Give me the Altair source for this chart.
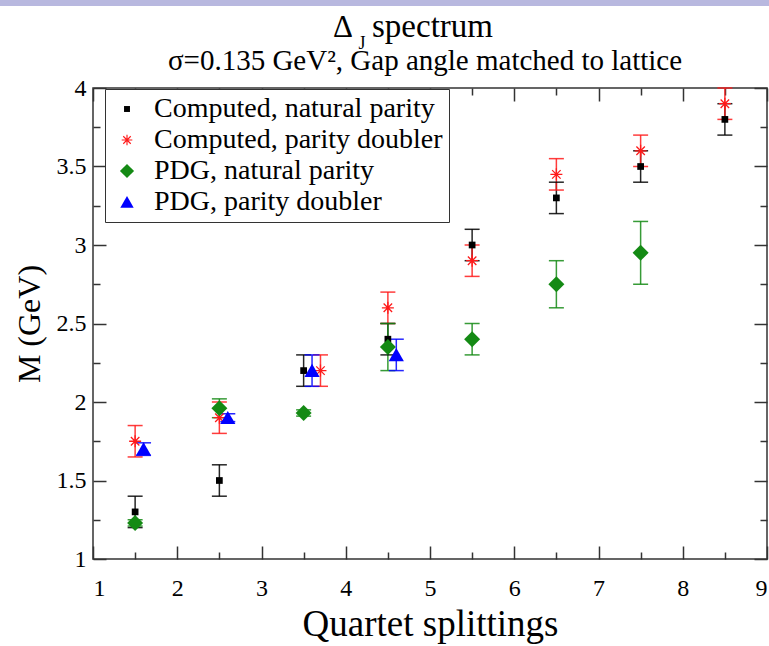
import altair as alt
import pandas as pd

SERIF = "Liberation Serif"

# ---- data -------------------------------------------------------------
series_names = ["Computed, natural parity", "Computed, parity doubler",
                "PDG, natural parity", "PDG, parity doubler"]
series_colors = ["#000000", "#ff1a1a", "#148a14", "#0000ff"]
# symbol outlines in the unit box [-1, 1]
SQUARE = "M-0.42,-0.42H0.42V0.42H-0.42Z"
ASTERISK = ("M-0.75,-0.08H0.75V0.08H-0.75Z"
            "M-0.08,-0.75H0.08V0.75H-0.08Z"
            "M-0.587,-0.473L-0.473,-0.587L0.587,0.473L0.473,0.587Z"
            "M-0.473,0.587L-0.587,0.473L0.473,-0.587L0.587,-0.473Z")
DIAMOND = "M-1,0L0,-1L1,0L0,1Z"
TRIANGLE = "M0,-0.85L0.95,0.8L-0.95,0.8Z"
series_shapes = [SQUARE, ASTERISK, DIAMOND, TRIANGLE]

cnp_x = [1.5, 2.5, 3.5, 4.5, 5.5, 6.5, 7.5, 8.5]
cnp_y = [1.30, 1.50, 2.20, 2.40, 3.00, 3.30, 3.50, 3.80]
cnp_e = [0.10, 0.10, 0.10, 0.10, 0.10, 0.10, 0.10, 0.10]

cpd_x = [1.5, 2.5, 3.7, 4.5, 5.5, 6.5, 7.5, 8.5]
cpd_y = [1.75, 1.90, 2.20, 2.60, 2.90, 3.45, 3.60, 3.90]
cpd_e = [0.10, 0.10, 0.10, 0.10, 0.10, 0.10, 0.10, 0.10]

pnp_x = [1.5, 2.5, 3.5, 4.5, 5.5, 6.5, 7.5]
pnp_y = [1.23, 1.96, 1.93, 2.35, 2.40, 2.75, 2.95]
pnp_e = [0.02, 0.06, 0.02, 0.15, 0.10, 0.15, 0.20]

ppd_x = [1.6, 2.6, 3.6, 4.6]
ppd_y = [1.70, 1.90, 2.20, 2.30]
ppd_e = [0.04, 0.025, 0.10, 0.10]

x_major = [1, 2, 3, 4, 5, 6, 7, 8, 9]
x_minor = [1.5, 2.5, 3.5, 4.5, 5.5, 6.5, 7.5, 8.5]
y_major = [1, 1.5, 2, 2.5, 3, 3.5, 4]
y_minor = [1.25, 1.75, 2.25, 2.75, 3.25, 3.75]

title_delta = "Δ"
title_sub_j = "J"
title_rest = "spectrum"
subtitle = "σ=0.135 GeV², Gap  angle matched to lattice"
x_title = "Quartet splittings"
y_title = "M (GeV)"

rows = []
for name, xs, ys, es in zip(series_names,
                            [cnp_x, cpd_x, pnp_x, ppd_x],
                            [cnp_y, cpd_y, pnp_y, ppd_y],
                            [cnp_e, cpd_e, pnp_e, ppd_e]):
    for xv, yv, ev in zip(xs, ys, es):
        rows.append({"series": name, "x": xv, "y": yv, "lo": yv - ev, "hi": yv + ev})
df = pd.DataFrame(rows)

# ---- scales -----------------------------------------------------------
xs_ = alt.Scale(domain=[1, 9], nice=False, zero=False)
ys_ = alt.Scale(domain=[1, 4], nice=False, zero=False)
col_scale = alt.Scale(domain=series_names, range=series_colors)
shape_scale = alt.Scale(domain=series_names, range=series_shapes)

TICK = dict(domain=False, grid=False, tickColor="#333333", tickWidth=1.5)


def axis(orient, values, size, labels=False, title=None, **kw):
    return alt.Axis(orient=orient, values=values, tickSize=size, offset=-size,
                    labels=labels, title=title, **TICK, **kw)


ax_x_main = axis("bottom", x_major, 13, labels=True, title=x_title,
                 format="d", labelFont=SERIF, labelFontSize=24, labelColor="#000",
                 labelPadding=17, titleFont=SERIF, titleFontSize=37,
                 titleFontWeight="normal", titleColor="#000", titlePadding=6)
ax_y_main = axis("left", y_major, 13, labels=True, title=y_title,
                 format="~g", labelFont=SERIF, labelFontSize=24, labelColor="#000",
                 labelPadding=7, titleFont=SERIF, titleFontSize=32,
                 titleFontWeight="normal", titleColor="#000", titlePadding=10)
ax_x_minor = axis("bottom", x_minor, 7)
ax_y_minor = axis("left", y_minor, 7)
ax_x_top = axis("top", x_major, 13)
ax_y_right = axis("right", y_major, 13)
ax_x_top_minor = axis("top", x_minor, 7)
ax_y_right_minor = axis("right", y_minor, 7)

# one legend definition shared by every layer that encodes the series
legend = alt.Legend(
    title=None, orient="none", legendX=12, legendY=1,
    strokeColor="#333333", fillColor="white", padding=6,
    labelFont=SERIF, labelFontSize=28, labelColor="#000", labelLimit=400,
    rowPadding=3, symbolOffset=2, labelOffset=13, symbolSize=200,
    symbolStrokeWidth=0, symbolOpacity=1,
)
color_enc = alt.Color("series:N", scale=col_scale, legend=legend)

# ---- layers -----------------------------------------------------------
rules = alt.Chart().mark_rule(strokeWidth=1.5, opacity=0.85).encode(
    x=alt.X("x:Q", scale=xs_, axis=ax_x_main),
    y=alt.Y("lo:Q", scale=ys_, axis=ax_y_main),
    y2="hi:Q",
    color=color_enc,
)

caps_lo = alt.Chart().mark_tick(orient="horizontal", size=15, thickness=1.5,
                                opacity=0.85).encode(
    x=alt.X("x:Q", scale=xs_, axis=ax_x_minor),
    y=alt.Y("lo:Q", scale=ys_, axis=ax_y_minor),
    color=color_enc,
)

caps_hi = alt.Chart().mark_tick(orient="horizontal", size=15, thickness=1.5,
                                opacity=0.85).encode(
    x=alt.X("x:Q", scale=xs_, axis=ax_x_top),
    y=alt.Y("hi:Q", scale=ys_, axis=ax_y_right),
    color=color_enc,
)

points = alt.Chart().mark_point(filled=True, size=256, opacity=1,
                                strokeWidth=0).encode(
    x=alt.X("x:Q", scale=xs_, axis=ax_x_top_minor),
    y=alt.Y("y:Q", scale=ys_, axis=ax_y_right_minor),
    color=color_enc,
    shape=alt.Shape("series:N", scale=shape_scale, legend=legend),
)

one = pd.DataFrame({"k": [0]})
band = alt.Chart(one).mark_rect(color="#b8b8df").encode(
    x=alt.value(-93), x2=alt.value(676), y=alt.value(-88), y2=alt.value(-82))

t_delta = alt.Chart(pd.DataFrame({"t": [title_delta]})).mark_text(
    font=SERIF, fontSize=31, align="center", baseline="alphabetic", color="#000"
).encode(text="t:N", x=alt.value(250), y=alt.value(-51))
t_j = alt.Chart(pd.DataFrame({"t": [title_sub_j]})).mark_text(
    font=SERIF, fontSize=18, align="center", baseline="alphabetic", color="#000"
).encode(text="t:N", x=alt.value(269), y=alt.value(-39))
t_rest = alt.Chart(pd.DataFrame({"t": [title_rest]})).mark_text(
    font=SERIF, fontSize=33, align="left", baseline="alphabetic", color="#000"
).encode(text="t:N", x=alt.value(279), y=alt.value(-51))
t_sub = alt.Chart(pd.DataFrame({"t": [subtitle]})).mark_text(
    font=SERIF, fontSize=29, align="center", baseline="alphabetic", color="#000"
).encode(text="t:N", x=alt.value(332), y=alt.value(-18))

chart = alt.layer(
    band, t_delta, t_j, t_rest, t_sub, rules, caps_lo, caps_hi, points, data=df
).resolve_axis(
    x="independent", y="independent"
).properties(
    width=674, height=471,
    padding={"left": 93, "top": 88, "right": 2, "bottom": 87},
    autosize=alt.AutoSizeParams(type="none"),
    background="white",
).configure(
    font=SERIF
).configure_view(
    stroke="#333333", strokeWidth=1.5
)

chart.save("out.html", embed_options={"renderer": "svg", "actions": False})
